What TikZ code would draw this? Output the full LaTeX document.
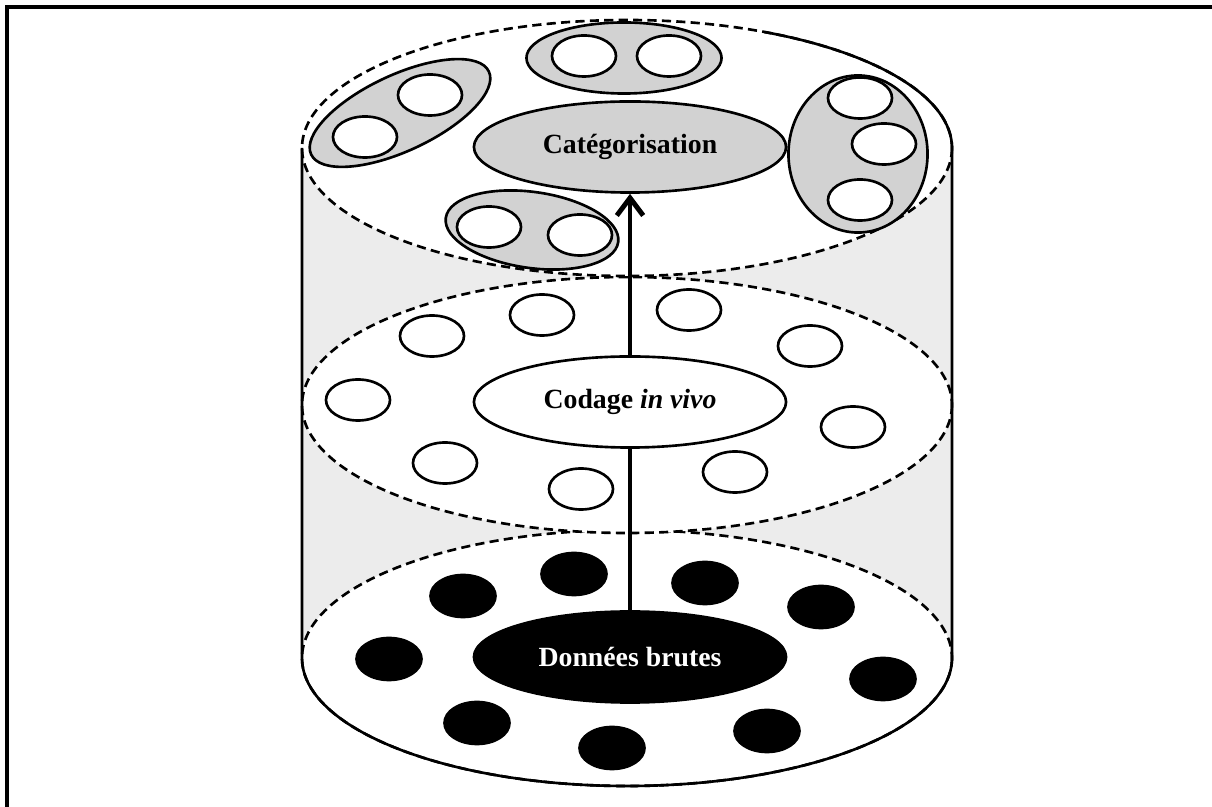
\documentclass[tikz,border=0pt]{standalone}
\usepackage{fontspec}
\setmainfont{Liberation Serif}
\usetikzlibrary{shapes.geometric,arrows.meta}

\definecolor{clustergray}{RGB}{210,210,210}
\definecolor{sidegray}{RGB}{236,236,236}

\tikzset{
  tier/.style={draw, dash pattern=on 2.6pt off 1.5pt, line width=0.75pt, fill=white},
  ovalnode/.style={ellipse, draw, line width=0.75pt, fill=white, inner sep=0pt, minimum width=0.64cm, minimum height=0.41cm},
  darknode/.style={ovalnode, fill=black, minimum width=0.65cm, minimum height=0.42cm},
  clusternode/.style={ellipse, draw, line width=0.75pt, fill=clustergray, inner sep=0pt},
  stagenode/.style={ellipse, draw, line width=0.75pt, inner sep=0pt, minimum width=3.12cm, minimum height=0.91cm, font=\fontsize{7.9}{9.5}\selectfont\bfseries},
}

\begin{document}
\begin{tikzpicture}[x=0.01cm, y=-0.01cm]
  \useasboundingbox (0,0) rectangle (1212,807);
  \draw[line width=1pt] (1212,7) -- (7,7) -- (7,807);
  \fill[sidegray] (302,148) rectangle (952,658);
  \foreach \cy in {658,405,148} \draw[tier] (627,\cy) ellipse [x radius=325, y radius=128];
  \draw[line width=0.75pt] (302,148) -- (302,658) arc[start angle=180, end angle=0, x radius=325, y radius=128] -- (952,148) arc[start angle=0, end angle=-65, x radius=325, y radius=128];

  \node[stagenode, fill=clustergray] (categ) at (630,147) {Catégorisation};
  \node[stagenode, fill=black, text=white] (donnees) at (630,657) {Données brutes};
  \draw[line width=1.4pt, -{Straight Barb[length=5pt,width=7.5pt]}] (donnees) -- (categ);
  \node[stagenode, fill=white] (codage) at (630,402) {Codage \textit{in vivo}};

  \node[clusternode, minimum width=1.96cm, minimum height=0.76cm, rotate=25] (k1) at (400,113) {};
  \node[clusternode, minimum width=1.95cm, minimum height=0.71cm] (k2) at (624,58) {};
  \node[clusternode, minimum width=1.39cm, minimum height=1.57cm] (k3) at (858,154) {};
  \node[clusternode, minimum width=1.74cm, minimum height=0.76cm, rotate=-8] (k4) at (532,230) {};
  \foreach \px/\py [count=\i] in {365/137,430/95,584/56,669/56,860/98,884/144,860/200,489/227,580/235}
    \node[ovalnode] (c\i) at (\px,\py) {};

  \foreach \px/\py [count=\i] in {432/336,542/315,689/310,810/346,358/400,853/427,445/463,581/489,735/472}
    \node[ovalnode] (m\i) at (\px,\py) {};

  \foreach \px/\py [count=\i] in {463/596,574/574,705/583,821/607,389/659,883/679,477/723,612/748,767/731}
    \node[darknode] (d\i) at (\px,\py) {};
\end{tikzpicture}
\end{document}
